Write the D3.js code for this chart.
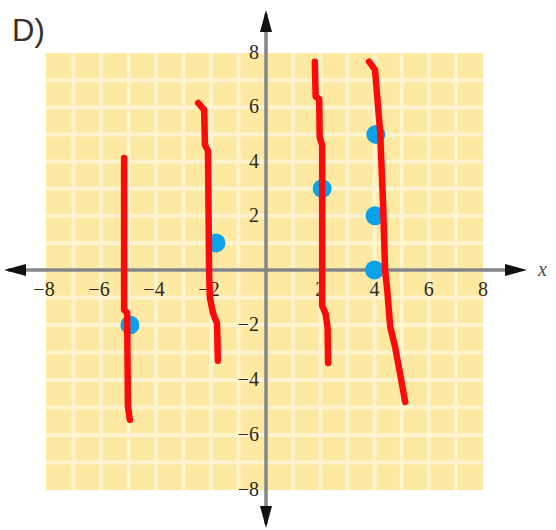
<!DOCTYPE html>
<html>
<head>
<meta charset="utf-8">
<script src="https://cdn.jsdelivr.net/npm/d3@7"></script>
<style>
  html, body { margin: 0; padding: 0; background: #fff; }
  svg { display: block; }
  .tick-label { font-family: "Liberation Serif", "DejaVu Serif", serif; font-size: 20px; fill: #2f2a20; }
</style>
</head>
<body>
<svg id="chart" width="556" height="530"></svg>
<script>
// Axis ticks
const xTicks = [-8, -6, -4, -2, 2, 4, 6, 8];
const yTicks = [8, 6, 4, 2, -2, -4, -6, -8];
const gridValues = d3.range(-7, 8);

// Hand-drawn red curves (x, y) in graph units
const curveA = [[-5.16, 4.13], [-5.16, -1.45], [-5.05, -1.55], [-5.02, -4.98], [-4.95, -5.45]];
const curveB = [[-2.47, 6.16], [-2.25, 5.9], [-2.22, 4.61], [-2.11, 4.4], [-2.07, 0], [-2.04, -1.0],
                [-1.93, -1.56], [-1.78, -1.95], [-1.75, -3.3]];
const curveC = [[1.8, 7.68], [1.83, 6.4], [1.96, 6.3], [1.98, 4.9], [2.07, 4.6], [2.07, -1.3],
                [2.2, -1.6], [2.27, -2.1], [2.29, -3.38]];
const curveD = [[3.8, 7.68], [4.02, 7.38], [4.1, 6.38], [4.21, 5.06], [4.32, 2.32], [4.39, 0],
                [4.46, -0.62], [4.58, -2.07], [4.76, -2.8], [4.94, -3.75], [5.13, -4.8]];
const curves = [curveA, curveB, curveC, curveD];

// Plotted points
const pointX = [-4.95, -1.82, 2.07, 4.05, 4.02, 4.0];
const pointY = [-2.0, 1.0, 3.0, 5.0, 2.0, 0.0];

const svg = d3.select("#chart");

const x = d3.scaleLinear().domain([-8, 0, 8]).range([46, 266, 483]);
const y = d3.scaleLinear().domain([-8, 0, 8]).range([490, 270, 53]);

// Yellow grid paper
svg.append("rect")
  .attr("x", x(-8)).attr("y", y(8))
  .attr("width", x(8) - x(-8)).attr("height", y(-8) - y(8))
  .attr("fill", "#fde9a1");

const grid = svg.append("g").attr("stroke", "#fff8e0").attr("stroke-width", 4).attr("opacity", 0.75);
grid.selectAll("line.v").data(gridValues).join("line")
  .attr("class", "v")
  .attr("x1", d => x(d)).attr("x2", d => x(d))
  .attr("y1", y(8)).attr("y2", y(-8));
grid.selectAll("line.h").data(gridValues).join("line")
  .attr("class", "h")
  .attr("y1", d => y(d)).attr("y2", d => y(d))
  .attr("x1", x(-8)).attr("x2", x(8));

// Axes with arrowheads
const axisG = svg.append("g");
axisG.append("line")
  .attr("x1", 8).attr("x2", 520).attr("y1", y(0)).attr("y2", y(0))
  .attr("stroke", "#858585").attr("stroke-width", 3.5);
axisG.append("line")
  .attr("x1", x(0)).attr("x2", x(0)).attr("y1", 14).attr("y2", 524)
  .attr("stroke", "#858585").attr("stroke-width", 3.5);

const arrow = (pts) => axisG.append("path")
  .attr("d", "M" + pts.map(p => p.join(",")).join("L") + "Z")
  .attr("fill", "#111");
arrow([[527, y(0)], [505, y(0) - 6], [505, y(0) + 6]]);
arrow([[4, y(0)], [26, y(0) - 6], [26, y(0) + 6]]);
arrow([[x(0), 10], [x(0) - 6, 32], [x(0) + 6, 32]]);
arrow([[x(0), 528], [x(0) - 6, 506], [x(0) + 6, 506]]);

// Tick labels
const fmt = d => d < 0 ? "\u2212" + Math.abs(d) : String(d);
svg.append("g").selectAll("text").data(xTicks).join("text")
  .attr("class", "tick-label")
  .attr("x", d => x(d) + (d < 0 ? -2 : 0)).attr("y", y(0) + 26)
  .attr("text-anchor", "middle")
  .text(fmt);
svg.append("g").selectAll("text").data(yTicks).join("text")
  .attr("class", "tick-label")
  .attr("x", x(0) - 7).attr("y", d => y(d) + 6)
  .attr("text-anchor", "end")
  .text(fmt);

svg.append("text")
  .attr("x", 538).attr("y", y(0) + 6)
  .style("font-family", "\"Liberation Serif\", serif").style("font-style", "italic").style("font-size", "20px")
  .attr("fill", "#4a4a4a")
  .text("x");

svg.append("text")
  .attr("x", 12).attr("y", 41)
  .style("font-family", "\"Liberation Sans\", Arial, sans-serif").style("font-size", "31px")
  .attr("fill", "#3a3028")
  .text("D)");

// Points
svg.append("g").selectAll("circle").data(pointX).join("circle")
  .attr("cx", d => x(d)).attr("cy", (d, i) => y(pointY[i]))
  .attr("r", 9.5)
  .attr("fill", "#0aa2e8");

// Red curves over the points
const line = d3.line().x(d => x(d[0])).y(d => y(d[1]));
svg.append("g").selectAll("path").data(curves).join("path")
  .attr("d", line)
  .attr("fill", "none")
  .attr("stroke", "#ff0a0a")
  .attr("stroke-width", 6.5)
  .attr("stroke-linecap", "round")
  .attr("stroke-linejoin", "round");
</script>
</body>
</html>
